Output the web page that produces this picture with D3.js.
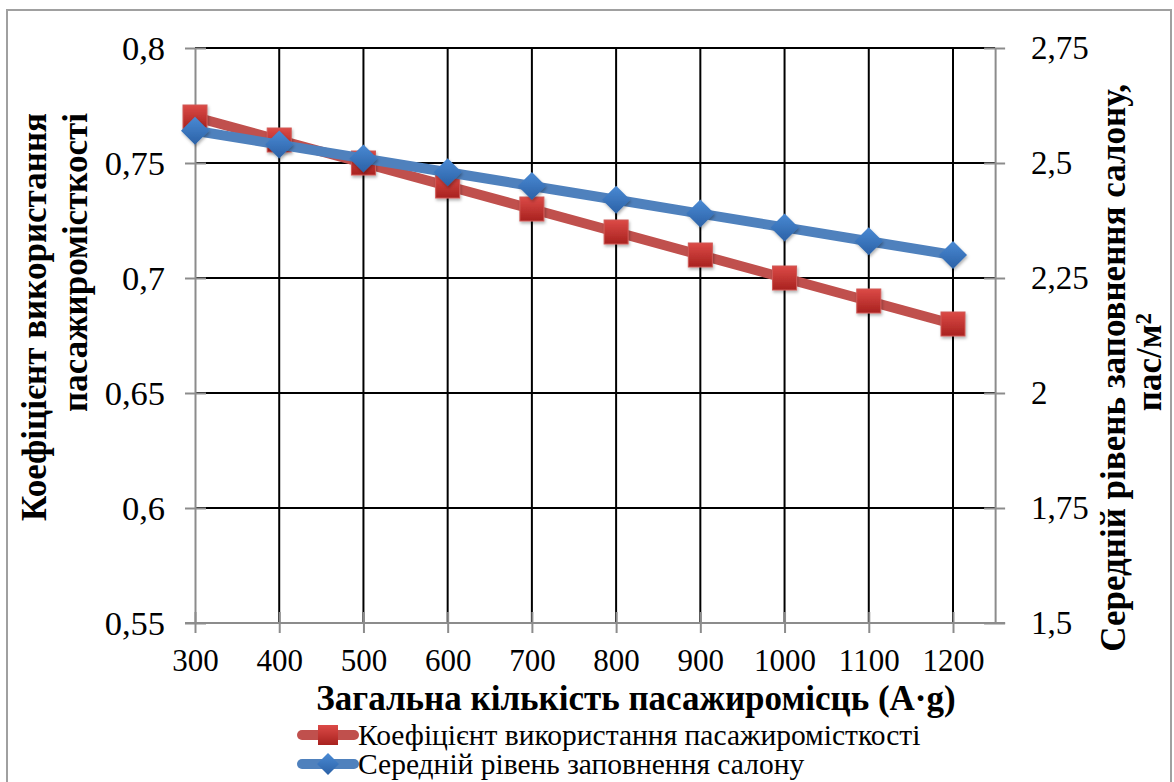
<!DOCTYPE html>
<html>
<head>
<meta charset="utf-8">
<script src="https://cdn.jsdelivr.net/npm/d3@7"></script>
<style>
  body { margin: 0; background: #fff; }
</style>
</head>
<body>
<svg id="chart" width="1174" height="782"></svg>
<script>
var categories = [300, 400, 500, 600, 700, 800, 900, 1000, 1100, 1200];
var coefValues = [0.77, 0.76, 0.75, 0.74, 0.73, 0.72, 0.71, 0.70, 0.69, 0.68];
var densityValues = [2.57, 2.54, 2.51, 2.48, 2.45, 2.42, 2.39, 2.36, 2.33, 2.30];
var leftTicks = [0.55, 0.6, 0.65, 0.7, 0.75, 0.8];
var rightTicks = [1.5, 1.75, 2, 2.25, 2.5, 2.75];

var coefName = "Коефіцієнт використання пасажиромісткості";
var densityName = "Середній рівень заповнення салону";
var xTitle = "Загальна кількість пасажиромісць (A·g)";

var serif = "'Liberation Serif', Tinos, 'Times New Roman', 'DejaVu Serif', serif";

var svg = d3.select("#chart").attr("font-family", serif);
var plotTop = 48, plotBottom = 623;

// outer frame
svg.append("rect")
  .attr("x", 7).attr("y", 10)
  .attr("width", 1164).attr("height", 800)
  .attr("fill", "#fff").attr("stroke", "#a0a0a0").attr("stroke-width", 2);

var x = d3.scalePoint().domain(categories).range([195, 953]);
var plotLeft = x(categories[0]);
var plotRight = x(categories[categories.length - 1]) + x.step() / 2;

var yL = d3.scaleLinear().domain([0.55, 0.8]).range([plotBottom, plotTop]);
var yR = d3.scaleLinear().domain([1.5, 2.75]).range([plotBottom, plotTop]);

var fmt = function(d) { return String(d).replace(".", ","); };

var defs = svg.append("defs");
var gr = defs.append("linearGradient").attr("id", "redGrad").attr("x1", 0).attr("y1", 0).attr("x2", 0).attr("y2", 1);
gr.append("stop").attr("offset", "0%").attr("stop-color", "#dc4a47");
gr.append("stop").attr("offset", "100%").attr("stop-color", "#a8221f");
var gb = defs.append("linearGradient").attr("id", "blueGrad").attr("x1", 0).attr("y1", 0).attr("x2", 0).attr("y2", 1);
gb.append("stop").attr("offset", "0%").attr("stop-color", "#4a8ad4");
gb.append("stop").attr("offset", "100%").attr("stop-color", "#2b61a6");
var sh = defs.append("filter").attr("id", "shadow").attr("x", "-50%").attr("y", "-50%").attr("width", "200%").attr("height", "200%");
sh.append("feDropShadow").attr("dx", 1).attr("dy", 2).attr("stdDeviation", 1.5).attr("flood-color", "#000").attr("flood-opacity", 0.3);

// gridlines
var grid = svg.append("g");
grid.selectAll(".hg")
  .data(leftTicks.slice(1))
  .enter().append("line")
  .attr("x1", plotLeft).attr("x2", plotRight)
  .attr("y1", function(d) { return yL(d); })
  .attr("y2", function(d) { return yL(d); })
  .attr("stroke", "#000").attr("stroke-width", 2);
grid.selectAll(".vg")
  .data(categories.slice(1))
  .enter().append("line")
  .attr("x1", function(d) { return x(d); })
  .attr("x2", function(d) { return x(d); })
  .attr("y1", plotTop).attr("y2", plotBottom)
  .attr("stroke", "#000").attr("stroke-width", 2);

// axes
var axisColor = "#8c8c8c";

var gLeft = svg.append("g")
  .attr("transform", "translate(" + plotLeft + ",0)")
  .call(d3.axisLeft(yL).tickValues(leftTicks).tickFormat(fmt).tickSizeInner(10).tickSizeOuter(0).tickPadding(20));
gLeft.selectAll(".tick line").attr("x1", 11);
gLeft.selectAll(".tick text").style("font-size", "34.5px").attr("dy", "0.33em");

var gRight = svg.append("g")
  .attr("transform", "translate(" + plotRight + ",0)")
  .call(d3.axisRight(yR).tickValues(rightTicks).tickFormat(fmt).tickSizeInner(10).tickSizeOuter(0).tickPadding(26));
gRight.selectAll(".tick line").attr("x1", -11);
gRight.selectAll(".tick text").style("font-size", "33px").attr("dy", "0.33em");

var gBottom = svg.append("g")
  .attr("transform", "translate(0," + plotBottom + ")")
  .call(d3.axisBottom(x).tickSizeInner(10).tickSizeOuter(0).tickPadding(16));
gBottom.select(".domain").remove();
gBottom.selectAll(".tick line").attr("y1", -11);
gBottom.selectAll(".tick text").style("font-size", "31px").attr("dy", "0.71em");

svg.append("line")
  .attr("x1", plotLeft - 10).attr("x2", plotRight + 10)
  .attr("y1", plotBottom).attr("y2", plotBottom)
  .attr("stroke", axisColor).attr("stroke-width", 2);

svg.selectAll("g").attr("font-family", null);
svg.selectAll(".domain").attr("stroke", axisColor).attr("stroke-width", 2);
svg.selectAll(".tick line").attr("stroke", axisColor).attr("stroke-width", 2);
svg.selectAll(".tick text").attr("fill", "#000");

// series
var lineL = d3.line()
  .x(function(d, i) { return x(categories[i]); })
  .y(function(d) { return yL(d); });
var lineR = d3.line()
  .x(function(d, i) { return x(categories[i]); })
  .y(function(d) { return yR(d); });

svg.append("path").datum(coefValues)
  .attr("d", lineL).attr("fill", "none")
  .attr("stroke", "#c0504d").attr("stroke-width", 10)
  .attr("stroke-linejoin", "round").attr("stroke-linecap", "round");

svg.selectAll(".sq")
  .data(coefValues)
  .enter().append("rect")
  .attr("x", function(d, i) { return x(categories[i]) - 12; })
  .attr("y", function(d) { return yL(d) - 12; })
  .attr("width", 24).attr("height", 24)
  .attr("fill", "url(#redGrad)").attr("stroke", "#d05a57").attr("stroke-width", 1)
  .attr("filter", "url(#shadow)");

svg.append("path").datum(densityValues)
  .attr("d", lineR).attr("fill", "none")
  .attr("stroke", "#4f81bd").attr("stroke-width", 10)
  .attr("stroke-linejoin", "round").attr("stroke-linecap", "round");

var diamond = function(cx, cy, r) {
  return "M" + cx + "," + (cy - r) + "L" + (cx + r) + "," + cy + "L" + cx + "," + (cy + r) + "L" + (cx - r) + "," + cy + "Z";
};
svg.selectAll(".dm")
  .data(densityValues)
  .enter().append("path")
  .attr("d", function(d, i) { return diamond(x(categories[i]), yR(d), 14); })
  .attr("fill", "url(#blueGrad)")
  .attr("filter", "url(#shadow)");

// axis titles
svg.append("text")
  .attr("x", 636).attr("y", 710)
  .attr("text-anchor", "middle")
  .style("font-size", "35px").style("font-weight", "bold")
  .text(xTitle);

svg.append("text")
  .attr("transform", "translate(46,113) rotate(-90)")
  .attr("text-anchor", "end")
  .style("font-size", "35px").style("font-weight", "bold")
  .text("Коефіцієнт використання");
svg.append("text")
  .attr("transform", "translate(87,113) rotate(-90)")
  .attr("text-anchor", "end")
  .style("font-size", "35px").style("font-weight", "bold")
  .text("пасажиромісткості");

svg.append("text")
  .attr("transform", "translate(1125,84) rotate(-90)")
  .attr("text-anchor", "end")
  .style("font-size", "35px").style("font-weight", "bold")
  .text("Середній рівень заповнення салону,");
var t2 = svg.append("text")
  .attr("transform", "translate(1161,362) rotate(-90)")
  .attr("text-anchor", "middle")
  .style("font-size", "35px").style("font-weight", "bold");
t2.append("tspan").text("пас/м");
t2.append("tspan").attr("dy", "-0.45em").style("font-size", "23px").text("2");

// legend
var legend = svg.append("g");
var items = [
  { name: coefName, color: "#c0504d", marker: "square", y: 735 },
  { name: densityName, color: "#4f81bd", marker: "diamond", y: 764 }
];
items.forEach(function(it) {
  legend.append("line")
    .attr("x1", 302).attr("x2", 354)
    .attr("y1", it.y).attr("y2", it.y)
    .attr("stroke", it.color).attr("stroke-width", 10).attr("stroke-linecap", "round");
  if (it.marker === "square") {
    legend.append("rect")
      .attr("x", 318).attr("y", it.y - 10).attr("width", 20).attr("height", 20)
      .attr("fill", "url(#redGrad)");
  } else {
    legend.append("path")
      .attr("d", diamond(328, it.y, 11))
      .attr("fill", "url(#blueGrad)");
  }
  legend.append("text")
    .attr("x", 358).attr("y", it.y + 10)
    .style("font-size", "29.5px")
    .text(it.name);
});
</script>
</body>
</html>
